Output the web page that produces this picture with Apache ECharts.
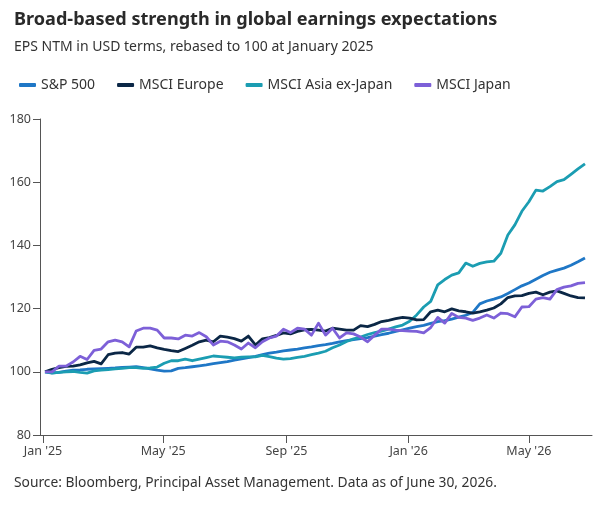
<!DOCTYPE html>
<html>
<head>
<meta charset="utf-8">
<script src="https://cdn.jsdelivr.net/npm/echarts@6/dist/echarts.min.js"></script>
<style>
html,body{margin:0;padding:0;background:#fff;}
#chart{width:600px;height:505px;}
</style>
</head>
<body>
<div id="chart"></div>
<script>
// Weekly observations (Fridays) starting 3 Jan 2025
const startDate = '2025-01-03';
const weekCount = 78;
const seriesNames = ['S&P 500', 'MSCI Europe', 'MSCI Asia ex-Japan', 'MSCI Japan'];
const tickDates = ['2025-01-01', '2025-05-01', '2025-09-01', '2026-01-01', '2026-05-01'];
const tickLabels = ["Jan '25", "May '25", "Sep '25", "Jan '26", "May '26"];

const sp500 = [100,99.7,99.8,100.2,100.5,100.6,100.8,100.9,101,101.1,101.2,101.4,101.5,101.6,101.3,100.9,100.5,100.2,100.3,101.1,
  101.3,101.6,101.9,102.2,102.6,102.9,103.2,103.7,104.1,104.5,104.9,105.4,105.9,106.2,106.6,106.9,107.2,107.6,107.9,108.3,
  108.6,109,109.5,109.9,110.2,110.5,110.8,111.3,111.8,112.2,112.8,113.3,113.8,114.3,114.7,115.3,115.9,116.2,116.7,117.3,
  117.9,118.8,121.5,122.4,123,123.7,124.8,126,127.2,128.1,129.3,130.5,131.5,132.2,132.8,133.7,134.8,136];
const europe = [100,100.8,101.3,101.7,101.8,102.2,102.8,103.3,102.5,105.4,105.9,106.1,105.6,107.8,107.8,108.2,107.6,107.1,106.7,106.4,
  107.4,108.4,109.5,110,109.5,111.3,111,110.5,109.7,111.3,108.5,110.4,110.8,111.5,112.3,112,112.8,113.3,113.4,113.2,
  112.9,113.8,113.5,113.2,113.2,114.6,114.3,115,115.9,116.3,116.8,117.2,117,116.4,116.5,119,119.5,119,119.9,119.3,
  119,118.6,119,119.5,120.2,121.5,123.5,124,124.1,124.8,125.2,124.4,125.2,125.6,124.8,124,123.5,123.4];
const asiaExJapan = [100,99.6,99.8,100,100.1,99.8,99.6,100.3,100.5,100.7,100.9,101.1,101.3,101.3,101.1,101.2,101.5,102.7,103.5,103.5,
  104,103.5,104,104.5,105,104.8,104.6,104.4,104.6,104.7,104.7,105.2,104.8,104.3,104,104.2,104.6,104.9,105.4,105.9,
  106.5,107.6,108.5,109.6,110.4,111,111.8,112.4,112.9,113.5,114.2,114.8,116,118,120.5,122.3,127.5,129.2,130.6,131.3,
  134.4,133.4,134.3,134.8,135,137.5,143.3,146.5,150.8,153.8,157.5,157.2,158.6,160.2,160.8,162.5,164.2,165.8];
const japan = [100,100,101.8,101.8,103.1,104.9,103.9,106.8,107.2,109.5,110,109.5,107.9,112.9,113.8,113.8,113.2,110.7,110.7,110.4,
  111.6,111.3,112.4,111.1,108.5,109.7,109.5,108.5,107.2,109.1,107.6,109.5,110.7,111.3,113.5,112.4,113.8,113.5,111.6,115.4,
  111.6,113.8,110.7,112.3,112,111,109.5,111.6,113.5,113.5,113.2,113,112.9,112.8,112.3,114,117.2,115.4,118.5,117.2,
  117,116.3,117,118,117,118.6,118.4,117.4,120.5,120.6,123,123.5,123,126,126.8,127.2,128,128.2];

const colors = ['#1f77c6', '#0b2746', '#1b9db2', '#7d60d8'];

const DAY = 86400000;
const t0 = new Date(startDate + 'T00:00:00Z').getTime();
const dates = [];
for (let i = 0; i < weekCount; i++) dates.push(t0 + i * 7 * DAY);
const tickTs = tickDates.map(d => new Date(d + 'T00:00:00Z').getTime());

const allValues = [sp500, europe, asiaExJapan, japan];
const FONT = 'Noto Sans';

const chart = echarts.init(document.getElementById('chart'), null, {renderer: 'canvas'});
chart.setOption({
  animation: false,
  backgroundColor: '#fff',
  textStyle: {fontFamily: FONT},
  title: [
    {text: 'Broad-based strength in global earnings expectations', left: 9, top: 6,
     textStyle: {fontFamily: FONT, fontSize: 18.1, fontWeight: 'bold', color: '#2a2a2a'}},
    {text: 'EPS NTM in USD terms, rebased to 100 at January 2025', left: 9, top: 35,
     textStyle: {fontFamily: FONT, fontSize: 14, fontWeight: 'normal', color: '#333'}},
    {text: 'Source: Bloomberg, Principal Asset Management. Data as of June 30, 2026.', left: 9, top: 471,
     textStyle: {fontFamily: FONT, fontSize: 13.8, fontWeight: 'normal', color: '#333'}}
  ],
  legend: {
    left: 14, top: 73, itemGap: 22, itemWidth: 17, itemHeight: 4, icon: 'roundRect',
    textStyle: {fontFamily: FONT, fontSize: 14, color: '#333'},
    data: seriesNames
  },
  grid: {left: 40, right: 8, top: 119, bottom: 70, containLabel: false},
  xAxis: {
    type: 'value',
    min: new Date('2024-12-29T00:00:00Z').getTime(),
    max: new Date('2026-07-03T00:00:00Z').getTime(),
    axisLine: {show: true, lineStyle: {color: '#555', width: 1}},
    axisTick: {show: true, length: 8, lineStyle: {color: '#555'}, customValues: tickTs},
    axisLabel: {customValues: tickTs, color: '#444', fontSize: 12.5, fontFamily: FONT, margin: 10,
      showMinLabel: true, showMaxLabel: true,
      formatter: v => { const i = tickTs.indexOf(v); return i >= 0 ? tickLabels[i] : ''; }},
    splitLine: {show: false}
  },
  yAxis: {
    type: 'value', min: 80, max: 180, interval: 20,
    axisLine: {show: true, lineStyle: {color: '#555', width: 1}},
    axisTick: {show: true, length: 7, lineStyle: {color: '#555'}},
    axisLabel: {color: '#444', fontSize: 12.5, fontFamily: FONT, margin: 9},
    splitLine: {show: false}
  },
  series: seriesNames.map((n, k) => ({
    name: n, type: 'line', showSymbol: false, symbol: 'none',
    data: dates.map((d, i) => [d, allValues[k][i]]),
    lineStyle: {color: colors[k], width: 2.8, join: 'round'},
    itemStyle: {color: colors[k]},
    z: k === 1 ? 3 : (k === 3 ? 4 : 2)
  }))
});
</script>
</body>
</html>
